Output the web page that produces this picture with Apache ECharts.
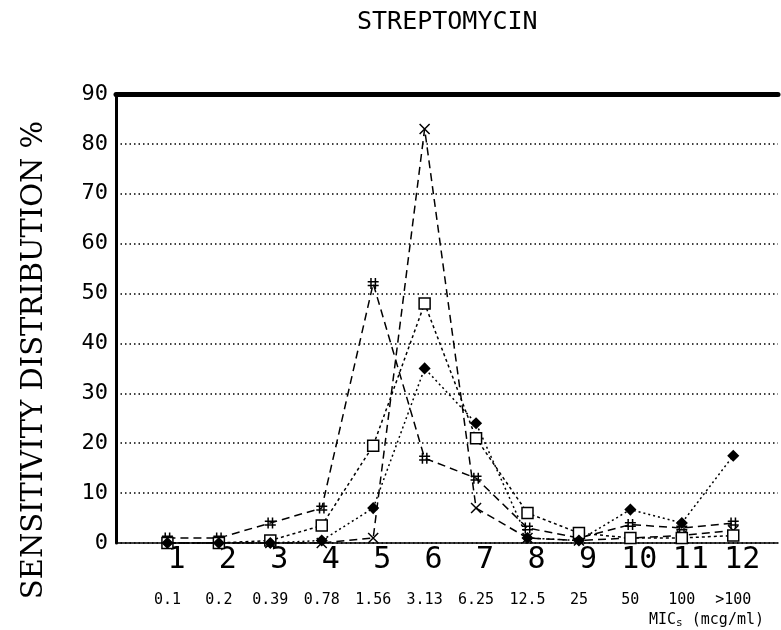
<!DOCTYPE html>
<html>
<head>
<meta charset="utf-8">
<script src="https://cdn.jsdelivr.net/npm/echarts@6/dist/echarts.min.js"></script>
<style>
  html, body { margin: 0; padding: 0; background: #fff; }
  #chart { width: 781px; height: 630px; }
</style>
</head>
<body>
<div id="chart"></div>
<script>
// group numbers on the x axis and the MIC each one stands for
const groups = [1, 2, 3, 4, 5, 6, 7, 8, 9, 10, 11, 12];
const micLabels = ["0.1", "0.2", "0.39", "0.78", "1.56", "3.13", "6.25", "12.5", "25", "50", "100", ">100"];
const yTicks = [0, 10, 20, 30, 40, 50, 60, 70, 80, 90];

// sensitivity distribution % per group
const crossValues = [0, 0, 0, 0, 1, 83, 7, 1, 0.5, 1, 1.5, 2.5];
const hashValues = [1, 1, 4, 7, 52, 17, 13, 3, 1, 3.7, 3, 4];
const boxValues = [0, 0, 0.5, 3.5, 19.5, 48, 21, 6, 2, 1, 1, 1.5];
const diamondValues = [0, 0, 0, 0.5, 7, 35, 24, 1, 0.5, 6.7, 4, 17.5];

const mono = "DejaVu Sans Mono";
const chart = echarts.init(document.getElementById("chart"));

const pairs = vals => groups.map((g, i) => [g, vals[i]]);

const mkSeries = (name, vals, symbol, size, dash, fill) => ({
  name: name,
  type: "line",
  data: pairs(vals),
  symbol: symbol,
  symbolSize: size,
  showAllSymbol: true,
  lineStyle: { color: "#000", width: 1.5, type: dash },
  itemStyle: { color: fill, borderColor: "#000", borderWidth: 1.5 },
  z: 5
});

const option = {
  backgroundColor: "#fff",
  animation: false,
  title: {
    text: "STREPTOMYCIN",
    left: 352,
    top: 5,
    textStyle: { fontFamily: mono, fontSize: 25, fontWeight: "normal", color: "#000" }
  },
  // y axis title, placed by hand like the original (lower than the plot middle)
  graphic: [{
    type: "text",
    x: 34,
    y: 360,
    rotation: Math.PI / 2,
    style: {
      text: "SENSITIVITY DISTRIBUTION %",
      fontFamily: "DejaVu Serif",
      fontSize: 29,
      fill: "#000",
      textAlign: "center",
      textVerticalAlign: "middle"
    }
  }],
  grid: { left: 116, right: 2, top: 94, bottom: 87 },
  xAxis: [
    {
      type: "value",
      min: 0,
      max: 12.87,
      interval: 1,
      axisLine: { lineStyle: { color: "#000", width: 1.5 } },
      axisTick: { show: false },
      splitLine: { show: false },
      axisLabel: {
        formatter: v => (groups.indexOf(v) >= 0 ? String(v) : ""),
        fontFamily: mono, fontSize: 30, color: "#000",
        margin: 2, padding: [0, 0, 0, 18]
      }
    },
    {
      type: "value",
      min: 0,
      max: 12.87,
      interval: 1,
      position: "bottom",
      offset: 48,
      axisLine: { show: false },
      axisTick: { show: false },
      splitLine: { show: false },
      axisLabel: {
        formatter: v => (groups.indexOf(v) >= 0 ? micLabels[v - 1] : ""),
        fontFamily: mono, fontSize: 15, color: "#000", margin: 2
      },
      name: "MIC{s|s} (mcg/ml)",
      nameLocation: "end",
      nameGap: 0,
      nameTextStyle: {
        fontFamily: mono, fontSize: 15, color: "#000",
        align: "right", verticalAlign: "top", padding: [21, 14, 0, 0],
        rich: { s: { fontFamily: mono, fontSize: 11, color: "#000", verticalAlign: "bottom", padding: [6, 0, 0, 0] } }
      }
    },
    {
      type: "value",
      min: 0,
      max: 12.87,
      position: "top",
      axisLine: { lineStyle: { color: "#000", width: 5 } },
      axisTick: { show: false },
      axisLabel: { show: false },
      splitLine: { show: false }
    }
  ],
  yAxis: {
    type: "value",
    min: yTicks[0],
    max: yTicks[yTicks.length - 1],
    interval: 10,
    axisLine: { show: true, lineStyle: { color: "#000", width: 3 } },
    axisTick: { show: false },
    axisLabel: { fontFamily: mono, fontSize: 22, color: "#000", margin: 8 },
    splitLine: { show: true, lineStyle: { color: "#000", width: 1.5, type: [1.5, 3] } }
  },
  series: [
    mkSeries("X", crossValues, "path://M0,0L10,10M10,0L0,10", 10, [8, 5], "#000"),
    mkSeries("#", hashValues, "path://M3,0V12M7,0V12M0,4H10M0,8H10", 11, [8, 5], "#000"),
    mkSeries("box", boxValues, "rect", 11, [3, 3], "#fff"),
    mkSeries("diamond", diamondValues, "diamond", 10, [2, 3], "#000")
  ]
};

chart.setOption(option);
</script>
</body>
</html>
